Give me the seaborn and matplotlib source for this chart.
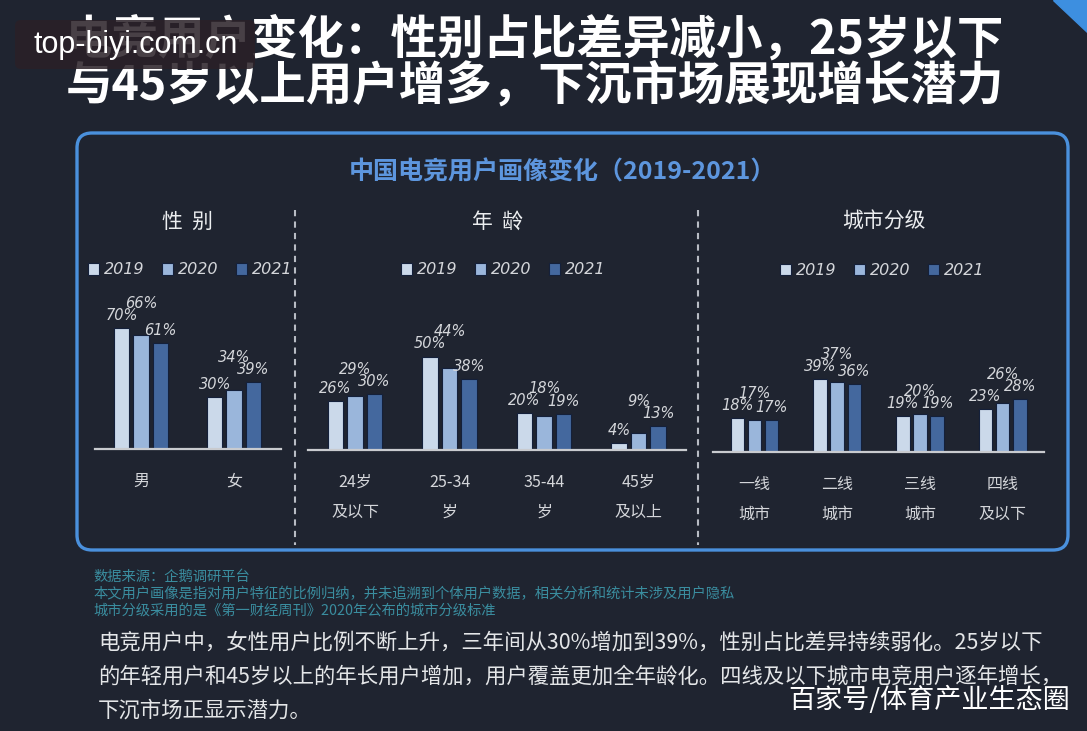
import matplotlib
matplotlib.use('Agg')
import matplotlib.pyplot as plt
import matplotlib.patches as mpatches
from matplotlib.lines import Line2D
from matplotlib.transforms import IdentityTransform
import numpy as np
import pandas as pd
import seaborn as sns

# 数据
years = ['2019', '2020', '2021']

gender_cats = ['男', '女']
gender_2019 = [70, 30]
gender_2020 = [66, 34]
gender_2021 = [61, 39]

age_cats = ['24岁\n及以下', '25-34\n岁', '35-44\n岁', '45岁\n及以上']
age_2019 = [26, 50, 20, 4]
age_2020 = [29, 44, 18, 9]
age_2021 = [30, 38, 19, 13]

city_cats = ['一线\n城市', '二线\n城市', '三线\n城市', '四线\n及以下']
city_2019 = [18, 39, 19, 23]
city_2020 = [17, 37, 20, 26]
city_2021 = [17, 36, 19, 28]

title_lines = ['电竞用户变化：性别占比差异减小，25岁以下',
               '与45岁以上用户增多，下沉市场展现增长潜力']
sub_title = '中国电竞用户画像变化（2019-2021）'
panel_titles = ['性  别', '年  龄', '城市分级']
notes = ['数据来源：企鹅调研平台',
         '本文用户画像是指对用户特征的比例归纳，并未追溯到个体用户数据，相关分析和统计未涉及用户隐私',
         '城市分级采用的是《第一财经周刊》2020年公布的城市分级标准']
para = ['电竞用户中，女性用户比例不断上升，三年间从30%增加到39%，性别占比差异持续弱化。25岁以下',
        '的年轻用户和45岁以上的年长用户增加，用户覆盖更加全年龄化。四线及以下城市电竞用户逐年增长，',
        '下沉市场正显示潜力。']

W, H = 1087, 731
BG = '#1f2430'
palette = ['#c6d8ef', '#8fb5e6', '#3565ad']
TXT = '#d4d6da'

sns.set_theme(style='white')
plt.rcParams['font.family'] = ['Noto Sans CJK SC', 'DejaVu Sans']
plt.rcParams['axes.unicode_minus'] = False


def fx(x):
    return x / W


def fy(y):
    return 1 - y / H


def long_df(cats, v1, v2, v3):
    rows = []
    for yr, vals in zip(years, [v1, v2, v3]):
        for c, v in zip(cats, vals):
            rows.append({'cat': c, 'year': yr, 'val': v})
    return pd.DataFrame(rows)


def add_labels(ax, scale):
    # 数值标签：中间一年若与两侧高度接近则抬高，避免重叠（单位：像素）
    pad, text_h = 5, 15
    bars = [list(c.patches) for c in ax.containers]
    n = len(bars[0])
    for i in range(n):
        hs = [bars[k][i].get_height() for k in range(3)]
        offs = [h * scale + pad for h in hs]
        side = max(offs[0], offs[2])
        near = min(abs(offs[1] - offs[0]), abs(offs[1] - offs[2]))
        if near < text_h:
            offs[1] = max(offs[1], side + text_h - 3)
        for k in range(3):
            b = bars[k][i]
            ax.annotate('{:.0f}%'.format(hs[k]), xy=(b.get_x() + b.get_width() / 2, 0),
                        xytext=(0, offs[k] * 0.72), textcoords='offset points',
                        ha='center', va='bottom', color=TXT, fontsize=10.5,
                        family=['DejaVu Sans'], fontstyle='italic', annotation_clip=False)


def panel(fig, df, cats, left, right, base, scale, legend_xy):
    # 用像素位置定位坐标轴
    h = 140
    ax = fig.add_axes([fx(left), fy(base), fx(right - left), h / H])
    sns.barplot(data=df, x='cat', y='val', hue='year', order=cats, hue_order=years,
                palette=palette, width=0.62, gap=0.2, edgecolor='#14203a', linewidth=0.8,
                ax=ax)
    ax.set_facecolor('none')
    ax.set_xlim(-0.5, len(cats) - 0.5)
    ax.set_ylim(0, h / scale)
    for s in ['top', 'right', 'left']:
        ax.spines[s].set_visible(False)
    ax.spines['bottom'].set_color('#c9cbcf')
    ax.spines['bottom'].set_linewidth(1.6)
    ax.set_yticks([])
    ax.set_xlabel('')
    ax.set_ylabel('')
    ax.tick_params(axis='x', length=0, pad=17, colors=TXT, labelsize=11.5)
    for t in ax.get_xticklabels():
        t.set_linespacing(2.0)
    add_labels(ax, scale)
    ax.legend(loc='center', bbox_to_anchor=(fx(legend_xy[0]), fy(legend_xy[1])),
              bbox_transform=fig.transFigure, ncol=3, frameon=False,
              handlelength=0.7, handleheight=0.7, handletextpad=0.3, columnspacing=1.1,
              labelcolor=TXT, prop={'family': 'DejaVu Sans', 'style': 'italic', 'size': 11.5})
    return ax


fig = plt.figure(figsize=(W / 100, H / 100), dpi=100, facecolor=BG)

# 右上角装饰
fig.add_artist(mpatches.Polygon([[1053, H], [1087, H], [1087, H - 32]], closed=True,
                                color='#3d8fe0', transform=IdentityTransform()))

# 大标题
fig.text(fx(535), fy(40), title_lines[0], ha='center', va='center', color='white',
         fontsize=33.5, fontweight='bold')
fig.text(fx(535), fy(86), title_lines[1], ha='center', va='center', color='white',
         fontsize=33.5, fontweight='bold')

# 水印
fig.add_artist(mpatches.FancyBboxPatch((15, H - 69), 240, 49, boxstyle='round,pad=0,rounding_size=6',
                                       facecolor='#2a2027', alpha=0.86, edgecolor='none',
                                       transform=IdentityTransform(), zorder=5))
fig.text(fx(136), fy(45), 'top-biyi.com.cn', ha='center', va='center', color='white',
         fontsize=22, family=['Liberation Sans', 'DejaVu Sans'], zorder=6)

# 外框
fig.add_artist(mpatches.FancyBboxPatch((77, H - 550), 991, 417, boxstyle='round,pad=0,rounding_size=15',
                                       facecolor='none', edgecolor='#4a90dc', linewidth=2.4,
                                       transform=IdentityTransform()))
fig.text(fx(562), fy(172), sub_title, ha='center', va='center', color='#5d96de',
         fontsize=18, fontweight='bold')

# 分隔虚线
for xs in [295, 698]:
    fig.add_artist(Line2D([fx(xs), fx(xs)], [fy(210), fy(545)], color='#b8bcc4',
                          linewidth=1.5, linestyle=(0, (3, 2.5))))

# 小标题
for t, xc in zip(panel_titles, [187, 497, 884]):
    fig.text(fx(xc), fy(222), t, ha='center', va='center', color='#eceef0', fontsize=15)

panel(fig, long_df(gender_cats, gender_2019, gender_2020, gender_2021), gender_cats,
      94.5, 280.5, 449, 1.73, (190, 270))
panel(fig, long_df(age_cats, age_2019, age_2020, age_2021), age_cats,
      307.8, 685.8, 450, 1.87, (503, 270))
panel(fig, long_df(city_cats, city_2019, city_2020, city_2021), city_cats,
      713.2, 1044, 452, 1.88, (882, 271))

# 注释
for i, t in enumerate(notes):
    fig.text(fx(93), fy(577 + 17 * i), t, ha='left', va='center', color='#3a8d9f', fontsize=10.3)

# 说明文字
for i, t in enumerate(para):
    fig.text(fx(98), fy(643 + 34 * i), t, ha='left', va='center', color='#e4e6e8', fontsize=15.4)

fig.text(fx(1070), fy(700), '百家号/体育产业生态圈', ha='right', va='center', color='white',
         fontsize=19.5, zorder=6)

plt.savefig('out.png', dpi=100, facecolor=BG)
